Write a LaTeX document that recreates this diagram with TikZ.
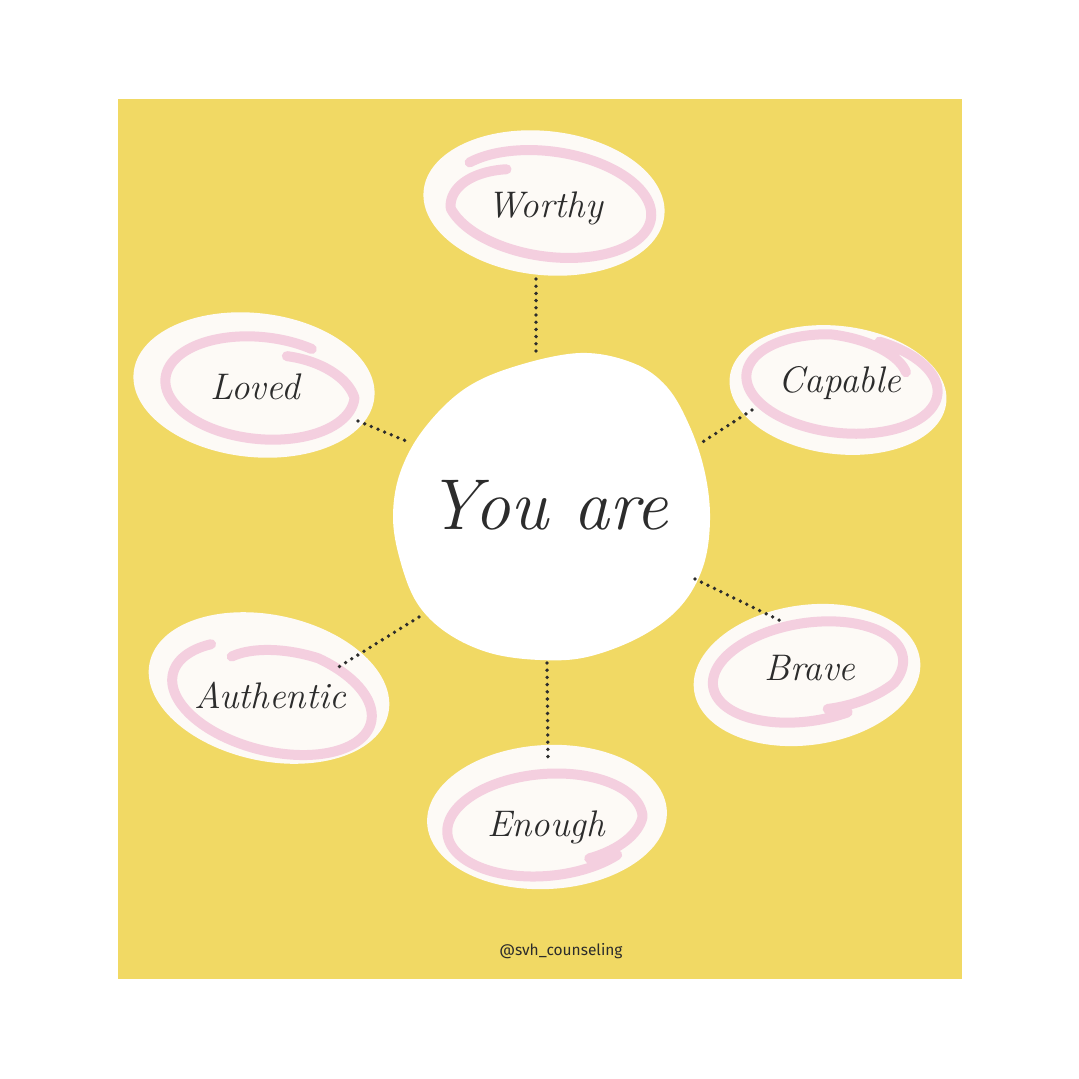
\documentclass[tikz,border=0pt]{standalone}
\usepackage{fontspec}
\newfontfamily\handlefont{Fira Sans}
\usetikzlibrary{shapes.geometric}
\definecolor{bgyellow}{HTML}{F1D964}
\definecolor{blobfill}{HTML}{FDFAF6}
\definecolor{pinkring}{HTML}{F4CFDF}
\definecolor{inkdark}{HTML}{2C2C2C}
\newcommand\pinkring[7]{%
  \begin{scope}[shift={(#1,#2)},rotate=#5]
    \draw[ringstroke] plot[domain=#6,samples=160,variable=\t,smooth] ({#3*(#7)*cos(\t)},{#4*(#7)*sin(\t)});
  \end{scope}}
\begin{document}
\begin{tikzpicture}[x=1pt,y=-1pt,
  blob/.style={ellipse,fill=blobfill,inner sep=0pt},
  ringstroke/.style={draw=pinkring,line width=10pt,line cap=round,line join=round},
  word/.style={text=inkdark,font=\fontsize{37}{37}\selectfont\itshape,inner sep=0pt},
  dotline/.style={draw=inkdark,line width=3.8pt,line cap=round,dash pattern=on 0pt off 7.2pt}]
\useasboundingbox (0,0) rectangle (1079,1079);
\fill[white] (0,0) rectangle (1079,1079);
\fill[bgyellow] (118,99) rectangle (962,979);

% satellite blobs
\node[blob,minimum width=242pt,minimum height=144pt,rotate=-6] (wb) at (544,203) {};
\node[blob,minimum width=242pt,minimum height=144pt,rotate=-6] (lb) at (254,385) {};
\node[blob,minimum width=218pt,minimum height=128pt,rotate=-7] (cb) at (838,390) {};
\node[blob,minimum width=244pt,minimum height=146pt,rotate=-12] (ab) at (269,688) {};
\node[blob,minimum width=228pt,minimum height=140pt,rotate=8] (bb) at (807,675) {};
\node[blob,minimum width=240pt,minimum height=144pt,rotate=3] (eb) at (547,817) {};

% pink rings
\pinkring{549}{204}{100}{51}{-8}{215:590}{1.03-0.3*max(0,(\t-520)/70)}
\pinkring{260}{388}{95}{51}{-6}{290:660}{1-0.28*max(0,(360-\t)/70)}
\pinkring{842}{384}{96}{49}{-6}{290:690}{1-0.25*max(0,(\t-620)/70)}
\pinkring{272}{698}{102}{53}{-14}{230:585}{1-0.25*max(0,(290-\t)/60)}
\pinkring{808}{672}{96}{49}{9}{70:440}{1-0.18*max(0,(\t-390)/50)}
\pinkring{545}{825}{98}{51}{5}{45:420}{1-0.16*max(0,(\t-360)/60)}

% central blob
\fill[white] plot[smooth cycle,tension=0.6] coordinates{
 (580,353) (633,363) (667,387) (690,427) (705,473) (710,520) (703,567)
 (680,607) (640,637) (587,657) (540,660) (490,653) (447,633) (417,603)
 (400,560) (393,517) (400,473) (423,430) (463,390) (513,367)};

% words
\node[word] (w) at (545,208) {Worthy};
\node[word] (l) at (255,387) {Loved};
\node[word] (c) at (840,383) {Capable};
\node[word] (a) at (270,695) {Authentic};
\node[word] (b) at (810,668) {Brave};
\node[word] (e) at (546,827) {Enough};
\node[text=inkdark,font=\fontsize{72}{72}\selectfont\itshape,inner sep=0pt] (you) at (548,505) {You are};
\node[text=inkdark,font=\handlefont\fontsize{15.5}{16}\selectfont,inner sep=0pt] (handle) at (561,951) {@svh\_counseling};

% connector ends
\coordinate (w1) at (536,279); \coordinate (w2) at (536,356);
\coordinate (l1) at (358,421); \coordinate (l2) at (411,443);
\coordinate (c1) at (752,410); \coordinate (c2) at (701,443);
\coordinate (b1) at (695,579); \coordinate (b2) at (783,622);
\coordinate (a1) at (419,617); \coordinate (a2) at (337,668);
\coordinate (e1) at (547,663); \coordinate (e2) at (548,761);
\draw[dotline] (w1) -- (w2);
\draw[dotline] (l1) -- (l2);
\draw[dotline] (c1) -- (c2);
\draw[dotline] (b1) -- (b2);
\draw[dotline] (a1) -- (a2);
\draw[dotline] (e1) -- (e2);
\end{tikzpicture}
\end{document}
